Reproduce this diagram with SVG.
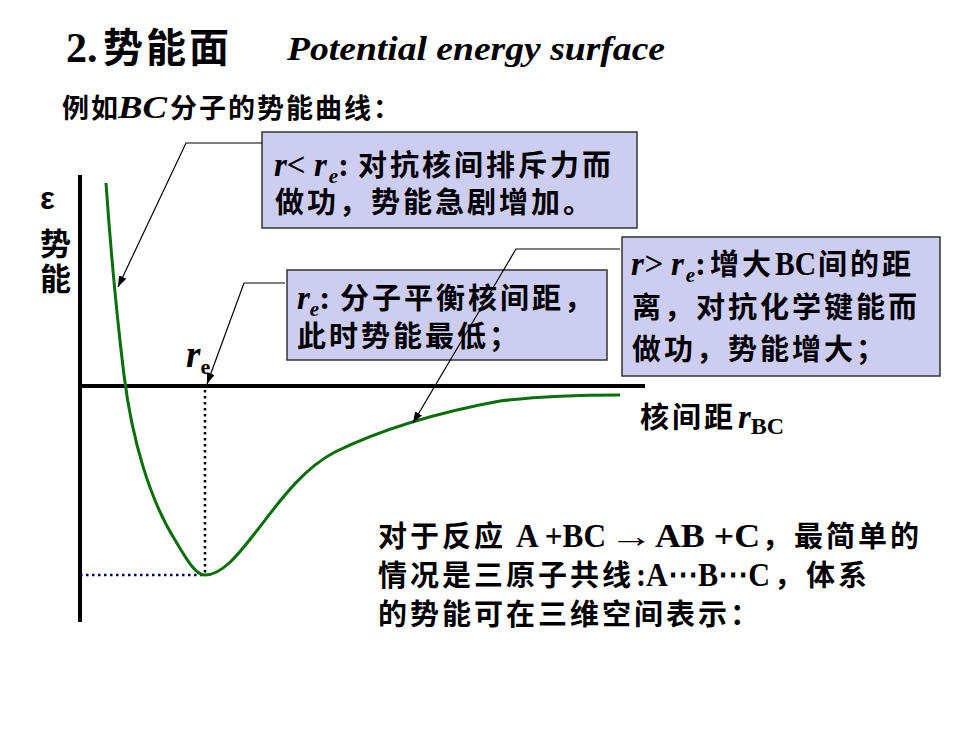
<svg xmlns="http://www.w3.org/2000/svg" width="980" height="735" viewBox="0 0 980 735">
<style>
.cjk{font-family:"Liberation Sans","Noto Sans CJK SC",sans-serif;font-weight:bold;fill:#000}
.ser{font-family:"Liberation Serif","DejaVu Serif",serif;font-weight:bold;fill:#000}
.it{font-style:italic}
.bt{font-size:29px;letter-spacing:3px}
.lt{font-size:33px}
.sub{font-size:21px}
.box{fill:#CDCDF1;stroke:#333;stroke-width:1.5}
.lead{fill:none;stroke:#000;stroke-width:1.2}
.axis{stroke:#000;stroke-width:4;fill:none}
</style>
<defs>
<marker id="ah" markerUnits="userSpaceOnUse" markerWidth="12" markerHeight="10" refX="11" refY="4" orient="auto">
<path d="M0,0 L11,4 L0,8 z" fill="#000"/>
</marker>
</defs>
<rect width="980" height="735" fill="#fff"/>

<g id="title">
<text x="66" y="62" class="ser" font-size="42">2.</text>
<text x="103" y="62" class="cjk" font-size="40" letter-spacing="3">势能面</text>
<text x="287" y="60" class="ser it" font-size="34" textLength="378" lengthAdjust="spacingAndGlyphs">Potential energy surface</text>
</g>

<g id="subtitle">
<text x="62" y="118" class="cjk" font-size="27" letter-spacing="2">例如</text>
<text x="118" y="118" class="ser it" font-size="31" textLength="49" lengthAdjust="spacingAndGlyphs">BC</text>
<text x="170" y="118" class="cjk" font-size="27" letter-spacing="2">分子的势能曲线：</text>
</g>

<g id="chart">
<line class="axis" x1="80" y1="175" x2="80" y2="622"/>
<line class="axis" x1="78" y1="386" x2="645" y2="386"/>
<line x1="205" y1="390" x2="205" y2="575" stroke="#000" stroke-width="2.5" stroke-dasharray="2.5 3.5"/>
<line x1="80" y1="575" x2="205" y2="575" stroke="#000066" stroke-width="2.5" stroke-dasharray="2.5 3.5"/>
<path d="M106,183 C110,240 116,310 124,375 C132,440 150,500 175,540 C188,562 196,575 205,575 C222,575 238,555 255,533 C275,508 300,470 335,452 C380,430 440,412 500,401 C550,395 590,395 620,395" fill="none" stroke="#0A6E0A" stroke-width="3"/>
</g>

<g id="y-label">
<text x="40" y="209" class="cjk" font-size="31">ε</text>
<text x="40" y="255" class="cjk" font-size="31">势</text>
<text x="40" y="290" class="cjk" font-size="31">能</text>
</g>

<g id="re-label">
<text x="186" y="367" class="ser it" font-size="37">r<tspan font-style="normal" font-size="22" dy="7">e</tspan></text>
</g>

<g id="x-label">
<text x="640" y="428" class="cjk bt">核间距</text>
<text x="738" y="428" class="ser it lt">r<tspan font-style="normal" font-size="24" dy="6">BC</tspan></text>
</g>

<g id="box-repulsion">
<rect class="box" x="262" y="132" width="375" height="96"/>
<text x="274" y="176" class="ser it lt">r&lt; r<tspan class="sub" dx="2" dy="7">e</tspan><tspan dy="-7" font-style="normal">:</tspan></text>
<text x="358" y="176" class="cjk bt">对抗核间排斥力而</text>
<text x="275" y="213" class="cjk bt" letter-spacing="4.5">做功，势能急剧增加。</text>
</g>

<g id="box-equilibrium">
<rect class="box" x="287" y="270" width="320" height="90"/>
<text x="297" y="309" class="ser it lt">r<tspan class="sub" dy="7">e</tspan><tspan dy="-7" font-style="normal">:</tspan></text>
<text x="340" y="309" class="cjk bt">分子平衡核间距，</text>
<text x="297" y="347" class="cjk bt">此时势能最低；</text>
</g>

<g id="box-attraction">
<rect class="box" x="622" y="237" width="318" height="139"/>
<text x="631" y="275" class="ser it lt">r&gt; r<tspan class="sub" dx="2" dy="7">e</tspan><tspan dy="-7" font-style="normal">:</tspan></text>
<text x="710" y="275" class="cjk bt">增大</text>
<text x="775" y="275" class="ser" font-size="33" textLength="41" lengthAdjust="spacingAndGlyphs">BC</text>
<text x="818" y="275" class="cjk bt" letter-spacing="3.5">间的距</text>
<text x="632" y="318" class="cjk bt" letter-spacing="3.3">离，对抗化学键能而</text>
<text x="632" y="360" class="cjk bt" letter-spacing="3.3">做功，势能增大；</text>
</g>

<g id="connectors">
<path class="lead" d="M262,143 L186,143 L118,287" marker-end="url(#ah)"/>
<path class="lead" d="M285,283 L244,283 L207,384" marker-end="url(#ah)"/>
<path class="lead" d="M620,249 L516,249 L413,423" marker-end="url(#ah)"/>
</g>

<g id="note">
<text x="378" y="547" class="cjk bt">对于反应</text>
<text x="516" y="547" class="ser" font-size="33" textLength="90" lengthAdjust="spacingAndGlyphs">A +BC</text>
<text x="609" y="547" class="ser" font-family="DejaVu Sans" font-size="32" textLength="44" lengthAdjust="spacingAndGlyphs">→</text>
<text x="655" y="547" class="ser" font-size="33" textLength="105" lengthAdjust="spacingAndGlyphs">AB +C</text>
<text x="762" y="547" class="cjk bt">，最简单的</text>
<text x="378" y="586" class="cjk bt">情况是三原子共线</text>
<text x="636" y="586" class="ser" font-size="33" textLength="134" lengthAdjust="spacingAndGlyphs">:A⋯B⋯C</text>
<text x="774" y="586" class="cjk bt">，体系</text>
<text x="378" y="625" class="cjk bt">的势能可在三维空间表示：</text>
</g>
</svg>
